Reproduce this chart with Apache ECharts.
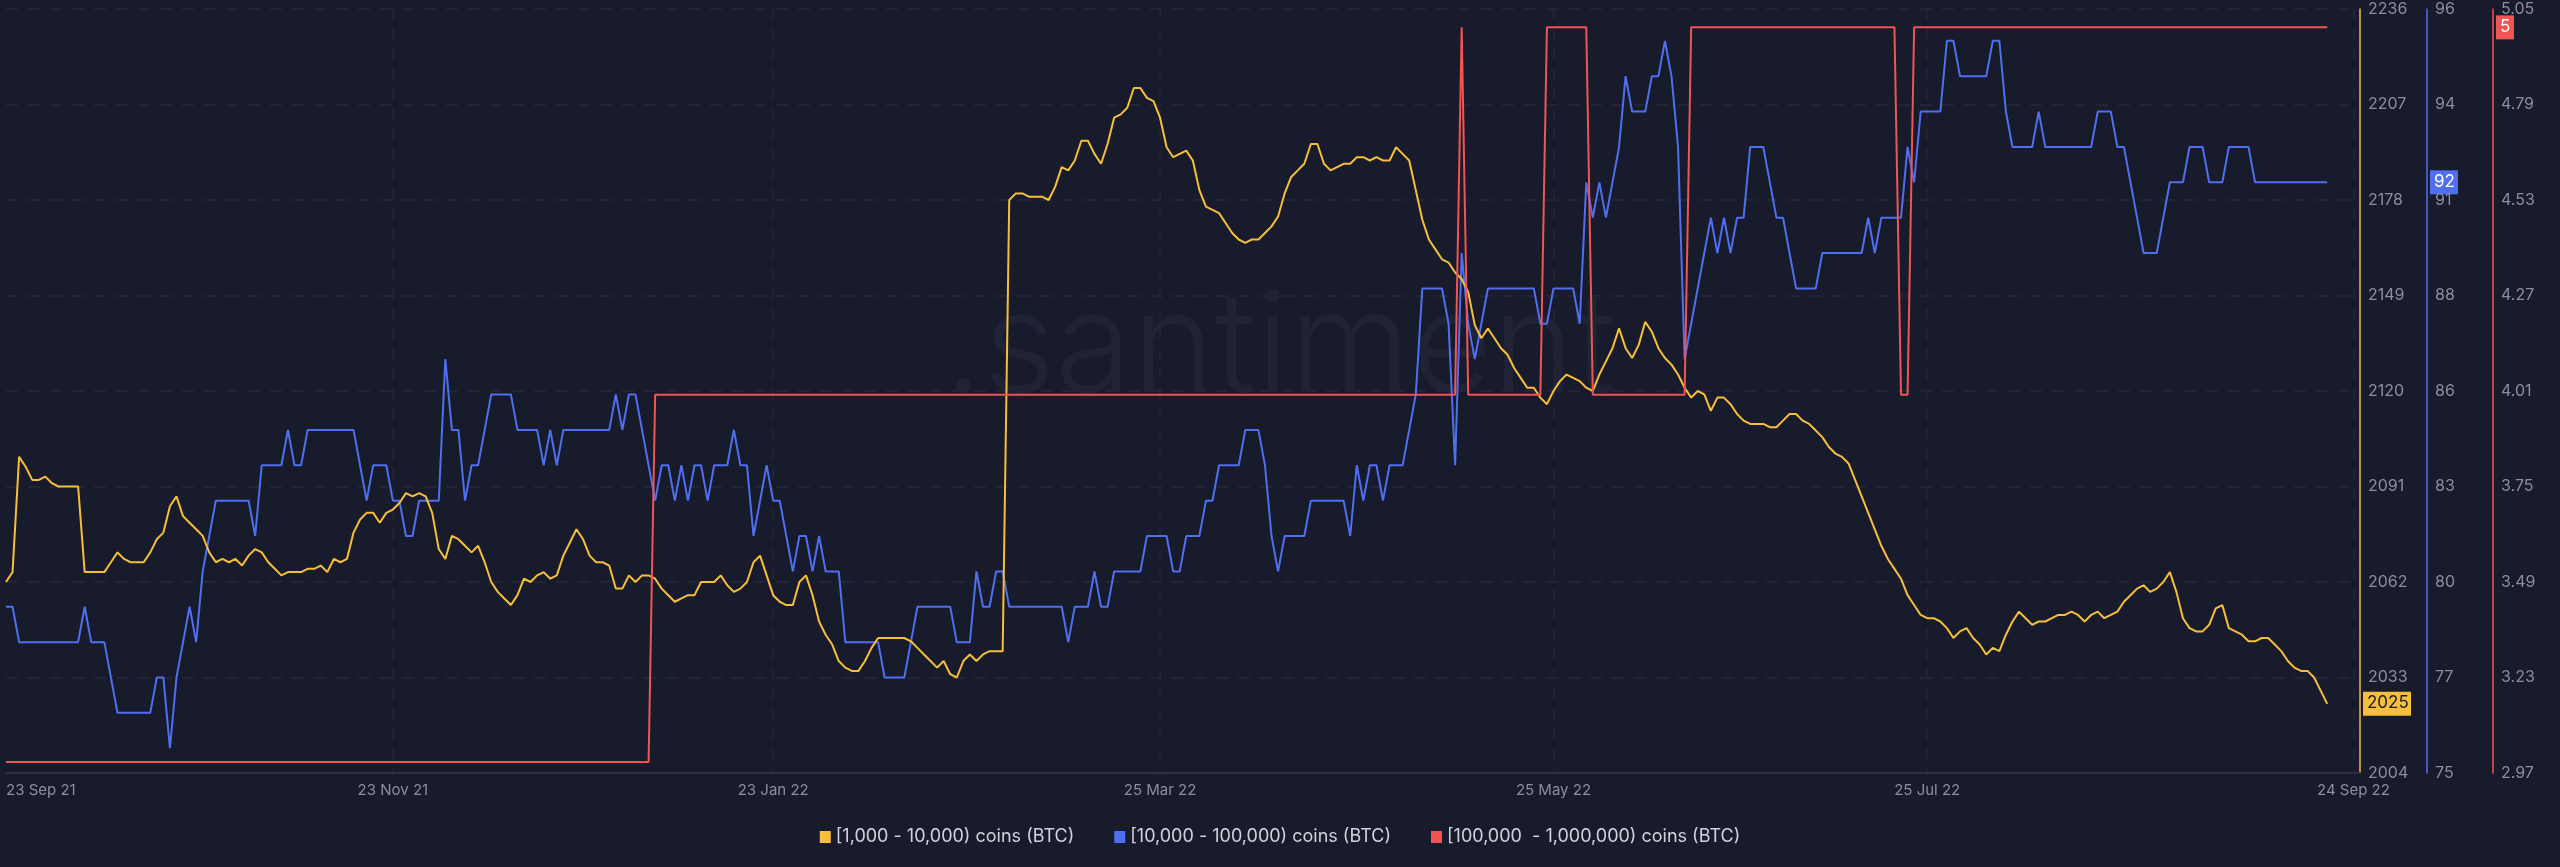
<!DOCTYPE html>
<html><head><meta charset="utf-8">
<script src="https://cdn.jsdelivr.net/npm/echarts@6/dist/echarts.min.js"></script>
<style>html,body{margin:0;padding:0;background:#181b2b;}#c{width:2560px;height:867px;}</style>
</head><body><div id="c"></div>
<script>
// Yellow: [1,000 - 10,000) coins (BTC), sampled ~daily from 23 Sep 21
const yellowValues = [2062,2065,2100,2097,2093,2093,2094,2092,2091,2091,2091,2091,2065,2065,2065,2065,2068,2071,2069,2068,
2068,2068,2071,2075,2077,2085,2088,2082,2080,2078,2076,2071,2068,2069,2068,2069,2067,2070,2072,2071,
2068,2066,2064,2065,2065,2065,2066,2066,2067,2065,2069,2068,2069,2077,2081,2083,2083,2080,2083,2084,
2086,2089,2088,2089,2088,2083,2072,2069,2076,2075,2073,2071,2073,2068,2062,2059,2057,2055,2058,2063,
2062,2064,2065,2063,2064,2070,2074,2078,2075,2070,2068,2068,2067,2060,2060,2064,2062,2064,2064,2063,
2060,2058,2056,2057,2058,2058,2062,2062,2062,2064,2061,2059,2060,2062,2068,2070,2064,2058,2056,2055,
2055,2062,2064,2058,2050,2046,2043,2038,2036,2035,2035,2038,2042,2045,2045,2045,2045,2045,2044,2042,
2040,2038,2036,2038,2034,2033,2038,2040,2038,2040,2041,2041,2041,2178,2180,2180,2179,2179,2179,2178,
2182,2188,2187,2190,2196,2196,2192,2189,2195,2203,2204,2206,2212,2212,2209,2208,2203,2194,2191,2192,
2193,2190,2181,2176,2175,2174,2171,2168,2166,2165,2166,2166,2168,2170,2173,2180,2185,2187,2189,2195,
2195,2189,2187,2188,2189,2189,2191,2191,2190,2191,2190,2190,2194,2192,2190,2181,2172,2166,2163,2160,
2159,2156,2154,2150,2140,2136,2139,2136,2133,2131,2127,2124,2121,2121,2118,2116,2120,2123,2125,2124,
2123,2121,2120,2125,2129,2133,2139,2133,2130,2134,2141,2138,2133,2130,2128,2125,2121,2118,2120,2119,
2114,2118,2118,2116,2113,2111,2110,2110,2110,2109,2109,2111,2113,2113,2111,2110,2108,2106,2103,2101,
2100,2098,2093,2088,2083,2078,2073,2069,2066,2063,2058,2055,2052,2051,2051,2050,2048,2045,2047,2048,
2045,2043,2040,2042,2041,2046,2050,2053,2051,2049,2050,2050,2051,2052,2052,2053,2052,2050,2052,2053,
2051,2052,2053,2056,2058,2060,2061,2059,2060,2062,2065,2059,2051,2048,2047,2047,2049,2054,2055,2048,
2047,2046,2044,2044,2045,2045,2043,2041,2038,2036,2035,2035,2033,2029,2025];
// Blue: [10,000 - 100,000) coins (BTC), as [value, number of days] runs
const blueRuns = [[80,2],[79,10],[80,1],[79,3],[78,1],[77,6],[78,2],[76,1],[78,1],[79,1],[80,1],[79,1],[81,1],[82,1],
[83,6],[82,1],[84,4],[85,1],[84,2],[85,8],[84,1],[83,1],[84,3],[83,2],[82,2],[83,3],[83,1],[87,1],[85,2],[83,1],
[84,2],[85,1],[86,4],[85,4],[84,1],[85,1],[84,1],[85,8],[86,1],[85,1],[86,2],[85,1],[84,1],[83,1],[84,2],[83,1],
[84,1],[83,1],[84,2],[83,1],[84,3],[85,1],[84,2],[82,1],[83,1],[84,1],[83,2],[82,1],[81,1],[82,2],[81,1],[82,1],
[81,3],[79,6],[78,4],[79,1],[80,6],[79,3],[81,1],[80,2],[81,2],[80,9],[79,1],[80,3],[81,1],[80,2],[81,5],[82,4],
[81,2],[82,3],[83,2],[84,4],[85,3],[84,1],[82,1],[81,1],[82,4],[83,6],[82,1],[84,1],[83,1],[84,2],[83,1],[84,3],
[85,1],[86,1],[89,4],[88,1],[84,1],[90,1],[88,1],[87,1],[88,1],[89,8],[88,2],[89,4],[88,1],[92,1],[91,1],[92,1],
[91,1],[92,1],[93,1],[95,1],[94,3],[95,2],[96,1],[95,1],[93,1],[87,1],[88,1],[89,1],[90,1],[91,1],[90,1],[91,1],
[90,1],[91,2],[93,3],[92,1],[91,2],[90,1],[89,4],[90,7],[91,1],[90,1],[91,4],[93,1],[92,1],[94,4],[96,2],[95,5],
[96,2],[94,1],[93,4],[94,1],[93,8],[94,3],[93,2],[92,1],[91,1],[90,3],[91,1],[92,3],[93,3],[92,3],[93,4],[92,12]];
// Red: [100,000 - 1,000,000) coins (BTC), as [value, number of days] runs
const redRuns = [[3,99],[4,123],[5,1],[4,12],[5,7],[4,15],[5,32],[4,2],[5,64]];
const xTickIndex = [0,59,117,176,236,293,358];
const xTickLabels = ['23 Sep 21','23 Nov 21','23 Jan 22','25 Mar 22','25 May 22','25 Jul 22','24 Sep 22'];
const yellowTicks = ['2004','2033','2062','2091','2120','2149','2178','2207','2236'];
const blueTicks = ['75','77','80','83','86','88','91','94','96'];
const redTicks = ['2.97','3.23','3.49','3.75','4.01','4.27','4.53','4.79','5.05'];
const seriesNames = ['[1,000 - 10,000) coins (BTC)','[10,000 - 100,000) coins (BTC)','[100,000  - 1,000,000) coins (BTC)'];

function expand(runs){const o=[];runs.forEach(r=>{for(let k=0;k<r[1];k++)o.push(r[0]);});return o;}
const blueValues = expand(blueRuns), redValues = expand(redRuns);
const N = 360;
const cats = []; for(let i=0;i<N;i++) cats.push(String(i));
const YEL='#f5bf3b', BLU='#4f6ff0', RED='#f05454';
const lab = {color:'#8b8e9f',fontSize:16,fontFamily:'Inter, Roboto, sans-serif'};
const chart = echarts.init(document.getElementById('c'));
function yAx(color,min,max,interval,ticks,offset,split){
  return {type:'value',position:'right',offset:offset,min:min,max:max,interval:interval,
    axisLine:{show:true,lineStyle:{color:color,width:1.5}},axisTick:{show:false},
    axisLabel:Object.assign({},lab,{margin:8,formatter:v=>ticks[Math.round((v-min)/interval)]||''}),
    splitLine:{show:split,lineStyle:{color:'#262a3b',type:[12,10],width:1.5}}};
}
const watermark = {id:'wm',type:'text',left:'center',top:280,z:0,silent:true,
  style:{text:'.santiment',fill:'#1f2335',font:'300 140px Inter, Roboto, sans-serif'}};
chart.setOption({
  backgroundColor:'#181b2b',
  animation:false,
  grid:{left:6,right:200,top:9,bottom:94,containLabel:false,outerBoundsMode:'none'},
  legend:{bottom:16,left:'center',itemWidth:11,itemHeight:12,itemGap:40,icon:'rect',
    textStyle:{color:'#d0d2dc',fontSize:18,fontFamily:'Inter, Roboto, sans-serif'},data:seriesNames},
  xAxis:{type:'category',data:cats,boundaryGap:false,
    axisLine:{lineStyle:{color:'#2c3042',width:2}},axisTick:{show:false},
    axisLabel:Object.assign({},lab,{fontSize:15,margin:10,alignMinLabel:'left',interval:(i)=>xTickIndex.indexOf(i)>=0,
      formatter:(v)=>{const k=xTickIndex.indexOf(+v);return k>=0?xTickLabels[k]:'';}}),
    splitLine:{show:true,interval:(i)=>xTickIndex.indexOf(i)>0,lineStyle:{color:'#23273a',type:[10,10],width:1.5}}},
  yAxis:[yAx(YEL,2004,2236,29,yellowTicks,0,true),yAx(BLU,75.3,96.9,2.7,blueTicks,67,false),yAx(RED,2.97,5.05,0.26,redTicks,133,false)],
  series:[
    {name:seriesNames[0],type:'line',yAxisIndex:0,data:yellowValues,showSymbol:false,lineStyle:{color:YEL,width:2},itemStyle:{color:YEL},z:3},
    {name:seriesNames[1],type:'line',yAxisIndex:1,data:blueValues,showSymbol:false,lineStyle:{color:BLU,width:2},itemStyle:{color:BLU},z:2},
    {name:seriesNames[2],type:'line',yAxisIndex:2,data:redValues,showSymbol:false,lineStyle:{color:RED,width:2},itemStyle:{color:RED},z:4}
  ]
});
function badge(id,axisIdx,val,color,txtColor,offset){
  const y = chart.convertToPixel({yAxisIndex:axisIdx},val);
  return {id:id,type:'group',x:2360+offset+3,y:y-12,z:10,children:[
    {type:'rect',shape:{x:0,y:0,width:String(val).length*10+8,height:24},style:{fill:color}},
    {type:'text',x:4,y:3,style:{text:String(val),fill:txtColor,font:'17px Inter, Roboto, sans-serif'}}]};
}
chart.setOption({graphic:[watermark,
  badge('b0',0,yellowValues[yellowValues.length-1],YEL,'#181b2b',0),
  badge('b1',1,blueValues[blueValues.length-1],BLU,'#ffffff',67),
  badge('b2',2,redValues[redValues.length-1],RED,'#ffffff',133)]},{replaceMerge:['graphic']});
</script></body></html>
